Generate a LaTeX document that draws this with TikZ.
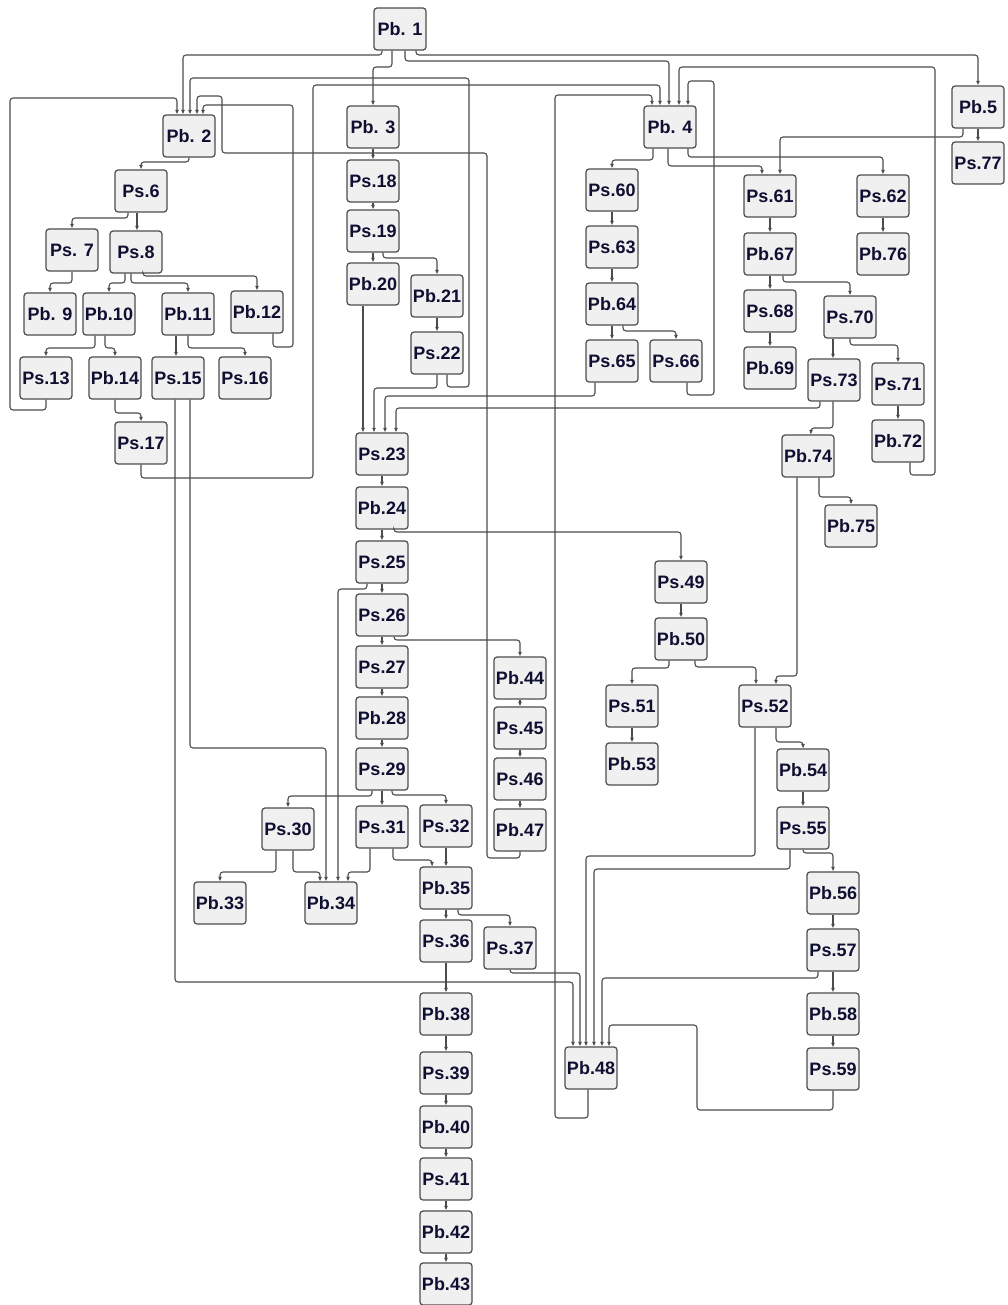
\documentclass[tikz,border=0pt]{standalone}
\usepackage{fontspec}
\setmainfont{Liberation Sans}
\usetikzlibrary{arrows.meta}
\definecolor{boxtext}{RGB}{15,15,50}
\tikzset{
  box/.style={draw=black!70, fill=black!6, rounded corners=3pt, line width=1.2pt,
    minimum width=52pt, minimum height=42pt, inner sep=0pt, text=boxtext,
    font=\bfseries\fontsize{18}{18}\selectfont},
  link/.style={-{Latex[length=4.5pt,width=4pt]}, draw=black!70, line width=1.1pt, rounded corners=3pt}
}
\begin{document}
\begin{tikzpicture}[x=1pt,y=-1pt]
      \useasboundingbox (0,0) rectangle (1007,1305);
      % left part
      \node[box] at (400,29)  (pb1)  {Pb. 1};
      \node[box] at (189,136) (pb2)  {Pb. 2};
      \node[box] at (141,191) (ps6)  {Ps.6};
      \node[box] at (72,250)  (ps7)  {Ps. 7};
      \node[box] at (136,252) (ps8)  {Ps.8};
      \node[box] at (50,314)  (pb9)  {Pb. 9};
      \node[box] at (109,314) (pb10) {Pb.10};
      \node[box] at (188,314) (pb11) {Pb.11};
      \node[box] at (257,312) (pb12) {Pb.12};
      \node[box] at (46,378)  (ps13) {Ps.13};
      \node[box] at (115,378) (pb14) {Pb.14};
      \node[box] at (178,378) (ps15) {Ps.15};
      \node[box] at (245,378) (ps16) {Ps.16};
      \node[box] at (141,443) (ps17) {Ps.17};
      % middle column
      \node[box] at (373,127) (pb3)  {Pb. 3};
      \node[box] at (373,181) (ps18) {Ps.18};
      \node[box] at (373,231) (ps19) {Ps.19};
      \node[box] at (373,284) (pb20) {Pb.20};
      \node[box] at (437,296) (pb21) {Pb.21};
      \node[box] at (437,353) (ps22) {Ps.22};
      \node[box] at (382,454) (ps23) {Ps.23};
      \node[box] at (382,508) (pb24) {Pb.24};
      \node[box] at (382,562) (ps25) {Ps.25};
      \node[box] at (382,615) (ps26) {Ps.26};
      \node[box] at (382,667) (ps27) {Ps.27};
      \node[box] at (382,718) (pb28) {Pb.28};
      \node[box] at (382,769) (ps29) {Ps.29};
      \node[box] at (288,829) (ps30) {Ps.30};
      \node[box] at (382,827) (ps31) {Ps.31};
      \node[box] at (446,826) (ps32) {Ps.32};
      \node[box] at (220,903) (pb33) {Pb.33};
      \node[box] at (331,903) (pb34) {Pb.34};
      \node[box] at (446,888) (pb35) {Pb.35};
      \node[box] at (446,941) (ps36) {Ps.36};
      \node[box] at (510,948) (ps37) {Ps.37};
      \node[box] at (446,1014) (pb38) {Pb.38};
      \node[box] at (446,1073) (ps39) {Ps.39};
      \node[box] at (446,1127) (pb40) {Pb.40};
      \node[box] at (446,1179) (ps41) {Ps.41};
      \node[box] at (446,1232) (pb42) {Pb.42};
      \node[box] at (446,1284) (pb43) {Pb.43};
      \node[box] at (520,678) (pb44) {Pb.44};
      \node[box] at (520,728) (ps45) {Ps.45};
      \node[box] at (520,779) (ps46) {Ps.46};
      \node[box] at (520,830) (pb47) {Pb.47};
      \node[box] at (591,1068) (pb48) {Pb.48};
      % right part
      \node[box] at (670,127) (pb4)  {Pb. 4};
      \node[box] at (978,107) (pb5)  {Pb.5};
      \node[box] at (978,163) (ps77) {Ps.77};
      \node[box] at (612,190) (ps60) {Ps.60};
      \node[box] at (612,247) (ps63) {Ps.63};
      \node[box] at (612,304) (pb64) {Pb.64};
      \node[box] at (612,361) (ps65) {Ps.65};
      \node[box] at (676,361) (ps66) {Ps.66};
      \node[box] at (770,196) (ps61) {Ps.61};
      \node[box] at (883,196) (ps62) {Ps.62};
      \node[box] at (770,254) (pb67) {Pb.67};
      \node[box] at (883,254) (pb76) {Pb.76};
      \node[box] at (770,311) (ps68) {Ps.68};
      \node[box] at (770,368) (pb69) {Pb.69};
      \node[box] at (850,317) (ps70) {Ps.70};
      \node[box] at (834,380) (ps73) {Ps.73};
      \node[box] at (898,384) (ps71) {Ps.71};
      \node[box] at (898,441) (pb72) {Pb.72};
      \node[box] at (808,456) (pb74) {Pb.74};
      \node[box] at (851,526) (pb75) {Pb.75};
      \node[box] at (681,582) (ps49) {Ps.49};
      \node[box] at (681,639) (pb50) {Pb.50};
      \node[box] at (632,706) (ps51) {Ps.51};
      \node[box] at (632,764) (pb53) {Pb.53};
      \node[box] at (765,706) (ps52) {Ps.52};
      \node[box] at (803,770) (pb54) {Pb.54};
      \node[box] at (803,828) (ps55) {Ps.55};
      \node[box] at (833,893) (pb56) {Pb.56};
      \node[box] at (833,950) (ps57) {Ps.57};
      \node[box] at (833,1014) (pb58) {Pb.58};
      \node[box] at (833,1069) (ps59) {Ps.59};
      % from Pb. 1
      \draw[link] ([xshift=-18pt]pb1.south) |- (183,55) -- (pb2.north -| 183,0);
      \draw[link] ([xshift=-8pt]pb1.south) |- (373,67) -- (pb3);
      \draw[link] ([xshift=5pt]pb1.south) |- (669,61) -- (pb4.north -| 669,0);
      \draw[link] ([xshift=16pt]pb1.south) |- (978,55) -- (pb5);
      % back into Pb. 2
      \draw[link] (ps13.south) |- (10,410) |- (177,98) -- (pb2.north -| 177,0);
      \draw[link] ([xshift=10pt]ps22.south) |- (469,387) |- (190,78) -- (pb2.north -| 190,0);
      \draw[link] (pb47.south) |- (487,858) |- (222,153) |- (197,96) -- (pb2.north -| 197,0);
      \draw[link] ([xshift=16pt]pb12.south) |- (293,347) |- (203,105) -- (pb2.north -| 203,0);
      % back into Pb. 4
      \draw[link] (ps17.south) |- (313,478) |- (660,85) -- (pb4.north -| 660,0);
      \draw[link] ([xshift=12pt]pb72.south) |- (935,475) |- (679,67) -- (pb4.north -| 679,0);
      \draw[link] ([xshift=-3pt]pb48.south) |- (555,1118) |- (652,95) -- (pb4.north -| 652,0);
      \draw[link] ([xshift=11pt]ps66.south) |- (714,395) |- (688,81) -- (pb4.north -| 688,0);
      % Pb. 2 subtree
      \draw[link] (pb2.south) |- (141,162) -- (ps6);
      \draw[link] ([xshift=-13pt]ps6.south) |- (72,218) -- (ps7);
      \draw[link] ([xshift=-4pt]ps6.south) -- (ps8.north -| 137,0);
      \draw[link] (ps7.south) |- (50,283) -- (pb9);
      \draw[link] ([xshift=-11pt]ps8.south) |- (109,283) -- (pb10);
      \draw[link] ([xshift=-5pt]ps8.south) |- (188,283) -- (pb11);
      \draw[link] ([xshift=7pt]ps8.south) |- (257,276) -- (pb12);
      \draw[link] ([xshift=-14pt]pb10.south) |- (46,348) -- (ps13);
      \draw[link] ([xshift=-4pt]pb10.south) |- (115,348) -- (pb14);
      \draw[link] ([xshift=-12pt]pb11.south) -- (ps15.north -| 176,0);
      \draw[link] (pb11.south) |- (245,348) -- (ps16);
      \draw[link] (pb14.south) |- (141,413) -- (ps17);
      \draw[link] ([xshift=-3pt]ps15.south) |- (573,982) -- (pb48.north -| 573,0);
      \draw[link] ([xshift=12pt]ps15.south) |- (326,748) -- (pb34.north -| 326,0);
      % Pb. 3 column
      \draw[link] (pb3) -- (ps18);
      \draw[link] (ps18) -- (ps19);
      \draw[link] (ps19) -- (pb20);
      \draw[link] ([xshift=10pt]ps19.south) |- (437,258) -- (pb21);
      \draw[link] (pb21) -- (ps22);
      \draw[link] ([xshift=-10pt]pb20.south) -- (ps23.north -| 363,0);
      \draw[link] (ps22.south) |- (374,388) -- (ps23.north -| 374,0);
      \draw[link] ([xshift=-17pt]ps65.south) |- (385,396) -- (ps23.north -| 385,0);
      \draw[link] ([xshift=-14pt]ps73.south) |- (396,408) -- (ps23.north -| 396,0);
      \draw[link] (ps23) -- (pb24);
      \draw[link] (pb24) -- (ps25);
      \draw[link] ([xshift=12pt]pb24.south) |- (681,532) -- (ps49);
      \draw[link] (ps25) -- (ps26);
      \draw[link] ([xshift=-15pt]ps25.south) |- (338,589) -- (pb34.north -| 338,0);
      \draw[link] (ps26) -- (ps27);
      \draw[link] ([xshift=12pt]ps26.south) |- (520,640) -- (pb44);
      \draw[link] (ps27) -- (pb28);
      \draw[link] (pb28) -- (ps29);
      \draw[link] ([xshift=-10pt]ps29.south) |- (288,796) -- (ps30);
      \draw[link] (ps29) -- (ps31);
      \draw[link] ([xshift=10pt]ps29.south) |- (446,795) -- (ps32);
      \draw[link] ([xshift=-12pt]ps30.south) |- (220,872) -- (pb33);
      \draw[link] ([xshift=5pt]ps30.south) |- (320,872) -- (pb34.north -| 320,0);
      \draw[link] ([xshift=-12pt]ps31.south) |- (348,872) -- (pb34.north -| 348,0);
      \draw[link] ([xshift=11pt]ps31.south) |- (432,860) -- (pb35.north -| 432,0);
      \draw[link] (ps32) -- (pb35);
      \draw[link] (pb35) -- (ps36);
      \draw[link] ([xshift=12pt]pb35.south) |- (510,915) -- (ps37);
      \draw[link] (ps36) -- (pb38);
      \draw[link] (pb38) -- (ps39);
      \draw[link] (ps39) -- (pb40);
      \draw[link] (pb40) -- (ps41);
      \draw[link] (ps41) -- (pb42);
      \draw[link] (pb42) -- (pb43);
      \draw[link] (ps37.south) |- (580,973) -- (pb48.north -| 580,0);
      \draw[link] (pb44) -- (ps45);
      \draw[link] (ps45) -- (ps46);
      \draw[link] (ps46) -- (pb47);
      % Ps.49 branch
      \draw[link] (ps49) -- (pb50);
      \draw[link] ([xshift=-12pt]pb50.south) |- (632,668) -- (ps51);
      \draw[link] ([xshift=14pt]pb50.south) |- (756,667) -- (ps52.north -| 756,0);
      \draw[link] ([xshift=-11pt]pb74.south) |- (776,676) -- (ps52.north -| 776,0);
      \draw[link] (ps51) -- (pb53);
      \draw[link] ([xshift=11pt]ps52.south) |- (803,742) -- (pb54);
      \draw[link] ([xshift=-10pt]ps52.south) |- (586,856) -- (pb48.north -| 586,0);
      \draw[link] (pb54) -- (ps55);
      \draw[link] (ps55.south) |- (833,853) -- (pb56);
      \draw[link] ([xshift=-13pt]ps55.south) |- (594,869) -- (pb48.north -| 594,0);
      \draw[link] (pb56) -- (ps57);
      \draw[link] (ps57) -- (pb58);
      \draw[link] (pb58) -- (ps59);
      \draw[link] ([xshift=-15pt]ps57.south) |- (602,978) -- (pb48.north -| 602,0);
      \draw[link] (ps59.south) |- (697,1110) |- (609,1025) -- (pb48.north -| 609,0);
      % Pb. 4 and Pb.5 subtrees
      \draw[link] ([xshift=-17pt]pb4.south) |- (612,160) -- (ps60);
      \draw[link] ([xshift=-2pt]pb4.south) |- (762,166) -- (ps61.north -| 762,0);
      \draw[link] ([xshift=18pt]pb4.south) |- (883,157) -- (ps62);
      \draw[link] ([xshift=-15pt]pb5.south) |- (780,137) -- (ps61.north -| 780,0);
      \draw[link] (pb5) -- (ps77);
      \draw[link] (ps60) -- (ps63);
      \draw[link] (ps63) -- (pb64);
      \draw[link] (pb64) -- (ps65);
      \draw[link] ([xshift=11pt]pb64.south) |- (676,331) -- (ps66);
      \draw[link] (ps61) -- (pb67);
      \draw[link] (ps62) -- (pb76);
      \draw[link] (pb67) -- (ps68);
      \draw[link] (ps68) -- (pb69);
      \draw[link] ([xshift=13pt]pb67.south) |- (850,282) -- (ps70);
      \draw[link] ([xshift=-17pt]ps70.south) -- (ps73.north -| 833,0);
      \draw[link] (ps70.south) |- (898,345) -- (ps71);
      \draw[link] (ps71) -- (pb72);
      \draw[link] ([xshift=-1pt]ps73.south) |- (811,428) -- (pb74.north -| 811,0);
      \draw[link] ([xshift=11pt]pb74.south) |- (851,497) -- (pb75);
    \end{tikzpicture}
\end{document}
